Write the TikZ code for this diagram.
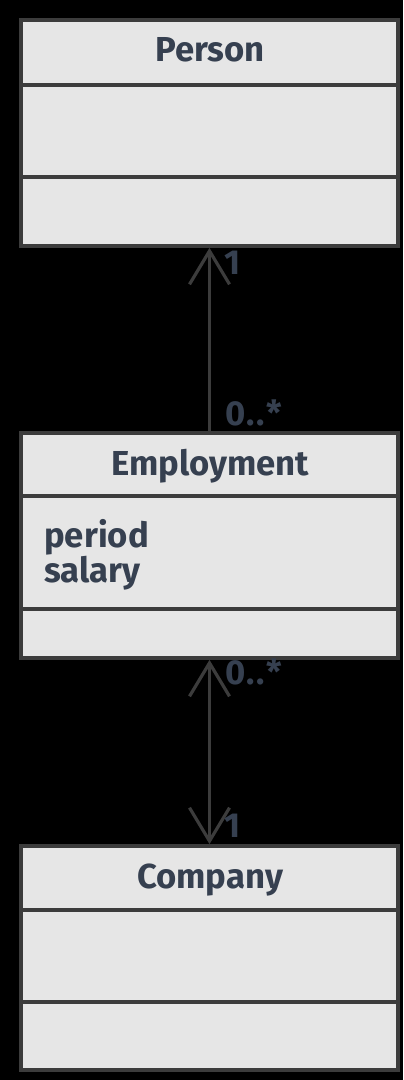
\documentclass[tikz,border=0pt]{standalone}
\usepackage{fontspec}
\setmainfont{Fira Sans}
\usetikzlibrary{arrows.meta}

\definecolor{boxgray}{HTML}{E6E6E6}
\definecolor{linegray}{HTML}{3C3C3C}
\definecolor{textslate}{HTML}{364050}

\begin{document}
\begin{tikzpicture}[x=0.75pt, y=-0.75pt,
    classbox/.style={draw=linegray, fill=boxgray, line width=2.8pt,
        minimum width=283pt, inner sep=0pt},
    divider/.style={draw=linegray, line width=2.8pt},
    classname/.style={text=textslate, inner sep=0pt,
        font=\bfseries\fontsize{26}{21}\selectfont},
    attrs/.style={classname, align=left},
    mult/.style={classname},
    assoc/.style={draw=linegray, line width=2.4pt},
    barb/.tip={Straight Barb[length=25pt, width=30pt]}]

    % Background and page size
    \fill[black] (0,0) rectangle (403,1080);
    \useasboundingbox (0,0) rectangle (403,1080);

    % Class boxes
    \node[classbox, minimum height=169.5pt] (person) at (209.5,133) {};
    \node[classbox, minimum height=168.75pt] (employment) at (209.5,545.5) {};
    \node[classbox, minimum height=168pt] (company) at (209.5,958) {};

    % Compartment dividers
    \foreach \cls/\ya/\yb in {person/85/177, employment/496/609, company/910/1002} {
        \draw[divider] (\cls.west |- 0,\ya) -- (\cls.east |- 0,\ya);
        \draw[divider] (\cls.west |- 0,\yb) -- (\cls.east |- 0,\yb);
    }

    % Class names and attributes
    \node[classname, anchor=base] (personname) at (210,62) {Person};
    \node[classname, anchor=base] (employmentname) at (210,475) {Employment};
    \node[classname, anchor=base] (companyname) at (210,888) {Company};
    \node[attrs, anchor=north west] (employmentattrs) at (44,519) {period\\salary};

    % Associations
    \draw[assoc, -barb] (employment.north) -- (person.south);
    \draw[assoc, barb-barb] (employment.south) -- (company.north);

    % Multiplicities
    \node[mult, anchor=base west] (multperson) at (224,275) {1};
    \node[mult, anchor=base west] (multempup) at (225,425) {0\kern1pt.\kern1pt.\kern1pt*};
    \node[mult, anchor=base west] (multempdown) at (225,684) {0\kern1pt.\kern1pt.\kern1pt*};
    \node[mult, anchor=base west] (multcompany) at (224,837) {1};

\end{tikzpicture}
\end{document}
